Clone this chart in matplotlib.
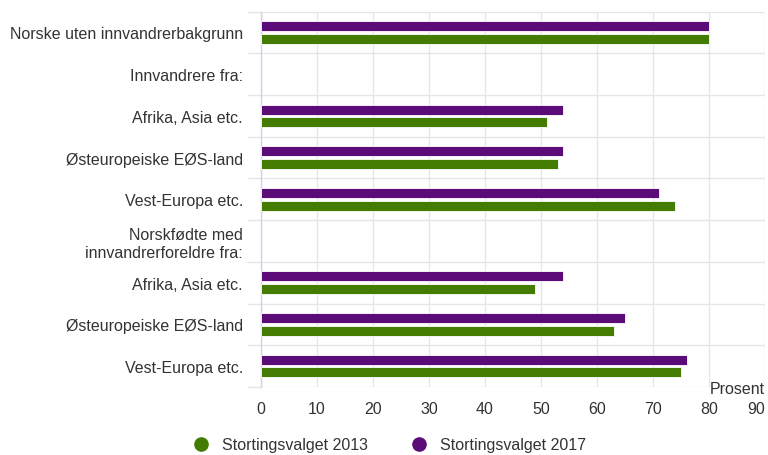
import numpy as np
import matplotlib.pyplot as plt
from matplotlib.lines import Line2D

plt.rcParams['font.family'] = ['Liberation Sans', 'DejaVu Sans']

# ------------------------------------------------------------
# Data: valgdeltakelse (prosent), stortingsvalget 2013 og 2017
# Empty groups are heading rows with no bars
# ------------------------------------------------------------
categories = [
    "Norske uten innvandrerbakgrunn",
    "Innvandrere fra:",
    "Afrika, Asia etc.",
    "Østeuropeiske EØS-land",
    "Vest-Europa etc.",
    "Norskfødte med\ninnvandrerforeldre fra:",
    "Afrika, Asia etc.",
    "Østeuropeiske EØS-land",
    "Vest-Europa etc.",
]
valg_2013 = [80, np.nan, 51, 53, 74, np.nan, 49, 63, 75]
valg_2017 = [80, np.nan, 54, 54, 71, np.nan, 54, 65, 76]
series_names = ["Stortingsvalget 2013", "Stortingsvalget 2017"]
xticks = [0, 10, 20, 30, 40, 50, 60, 70, 80, 90]

green = '#437c00'
purple = '#5c0c79'
text_col = '#333333'
grid_col = '#e6e6e6'
axis_col = '#ccd6eb'
fs = 11.5

fig = plt.figure(figsize=(7.68, 4.56), dpi=100)
ax = fig.add_axes([261 / 768, 68 / 456, 504 / 768, 375.5 / 456])

y = np.arange(len(categories))
h = 0.24
off = 0.15
ax.barh(y - off, valg_2017, height=h, color=purple, edgecolor='white',
        linewidth=0.6, zorder=3)
ax.barh(y + off, valg_2013, height=h, color=green, edgecolor='white',
        linewidth=0.6, zorder=3)

ax.set_xlim(0, 90)
ax.set_ylim(len(categories) - 0.5, -0.5)

# x axis (last label kept inside the figure, like the original)
ax.set_xticks(xticks)
ax.set_xticklabels([str(t) for t in xticks])
ax.get_xticklabels()[-1].set_ha('right')
ax.tick_params(axis='x', length=0, pad=10, labelsize=fs, labelcolor=text_col)
ax.grid(axis='x', color=grid_col, linewidth=1, zorder=0)

# y axis: labels at category centre, grid lines at category boundaries
ax.set_yticks(y)
ax.set_yticklabels(categories, ha='right')
ax.tick_params(axis='y', which='major', length=0, pad=13, labelsize=fs,
               labelcolor=text_col)
ax.set_yticks(np.arange(-0.5, len(categories) + 0.5, 1), minor=True)
ax.tick_params(axis='y', which='minor', length=10, color=grid_col, width=1)
for b in np.arange(-0.5, len(categories) + 0.5, 1):
    ax.axhline(b, color=grid_col, linewidth=1, zorder=0)

for s in ['top', 'right', 'bottom']:
    ax.spines[s].set_visible(False)
ax.spines['left'].set_color(axis_col)
ax.spines['left'].set_linewidth(1)

ax.text(1.0, -0.005, "Prosent", transform=ax.transAxes, ha='right', va='center',
        fontsize=fs, color=text_col)

handles = [
    Line2D([], [], marker='o', linestyle='none', markersize=9.5,
           markerfacecolor=green, markeredgecolor=green),
    Line2D([], [], marker='o', linestyle='none', markersize=9.5,
           markerfacecolor=purple, markeredgecolor=purple),
]
fig.legend(handles, series_names, loc='center', bbox_to_anchor=(389 / 768, 1 - 446 / 456),
           ncol=2, frameon=False, fontsize=fs, labelcolor=text_col,
           handletextpad=0.7, columnspacing=2.6, handlelength=1.2)

fig.savefig('out.png', dpi=100)
